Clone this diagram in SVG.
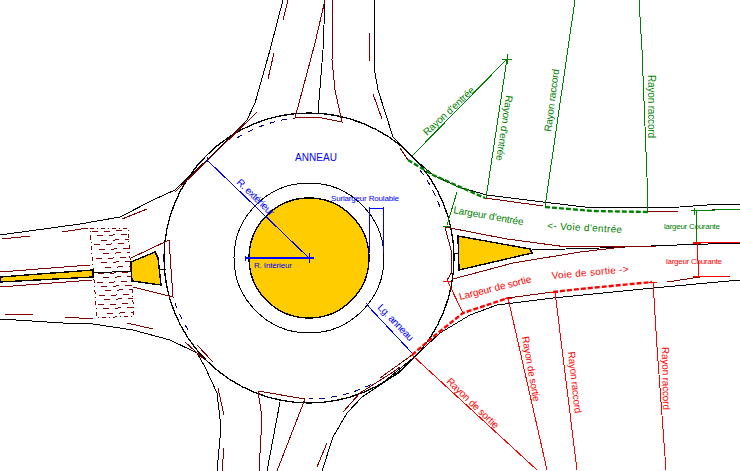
<svg xmlns="http://www.w3.org/2000/svg" width="740" height="471" viewBox="0 0 740 471">
<style>
path,line,circle,polygon{fill:none;shape-rendering:crispEdges}
.k{stroke:#000;stroke-width:1}
.r{stroke:#800000;stroke-width:1}
.n{stroke:#000080;stroke-width:1;stroke-dasharray:6 6}
.isl{fill:#FFCC00;stroke:#000;stroke-width:1.4}
.g{stroke:#008000;stroke-width:1}
path.gd{stroke:#008000;stroke-width:2.4;stroke-dasharray:5 2;shape-rendering:auto}
.s{stroke:#FF0000;stroke-width:1}
path.sd{stroke:#FF0000;stroke-width:2.4;stroke-dasharray:5 2;shape-rendering:auto}
.b{stroke:#0000FF;stroke-width:1}
text{font-family:"Liberation Sans",Arial,sans-serif;font-size:10px}
.tg{fill:#008000}.ts{fill:#FF0000}.tb{fill:#0000FF}
.sm{font-size:8px}
</style>
<rect width="740" height="471" fill="#fff"/>
<g id="chaussee">
<circle class="k" cx="309" cy="258" r="145" style="stroke-width:1.3"/>
<circle class="k" cx="309" cy="258" r="75"/>
<path class="n" d="M237,138A141,141 0 0 1 295,118"/>
<path class="n" d="M420,170A141,141 0 0 1 441,210"/>
<path class="n" d="M175,303A141,141 0 0 0 190,333"/>
<path class="n" d="M307,399A141,141 0 0 0 372,384"/>
<path class="k" d="M0,235L80,224L120,217L153,200L175,190L193,173L207,160L230,137L247,120L255,103L270,50L283,0"/>
<path class="k" d="M325,0L323,50L318,113"/>
<path class="k" d="M374,0L374,67L378,90L393,137L412,157L433,175L458,187L487,195L543,202L593,208L680,207L707,205L740,204"/>
<path class="k" d="M0,319L63,323L93,324L133,330L170,340L197,353L205,367L217,393L221,427L217,471"/>
<path class="k" d="M280,402L267,471"/>
<path class="k" d="M322,471L333,437L347,413L362,397L377,387L400,372L413,358L440,333L470,315L497,305L553,298L653,288L740,280"/>
<path class="k" d="M380,385L413,358"/>
<path class="k" d="M453,253H458M532,250L600,248L677,245L740,243"/>
<path class="k" d="M93,273L131,271M160,269H166"/>
<path class="r" d="M288,0L283,20M274,53L268,79M257,112L175,192M325,0L315,43L295,118L317,117L342,122L335,90L332,60L333,0M369,33V61M373,94L382,119"/>
<path class="r" d="M400,148L408,160M485,198L543,206M648,212L678,211M712,210L727,209"/>
<path class="r" d="M445,227L451,250L452,272L447,280M445,227L507,239L567,247L657,246M453,279L513,263L580,252L623,247M667,282L700,277L730,276"/>
<path class="r" d="M380,378L412,355M508,298L553,292"/>
<path class="r" d="M2,239L30,236M62,232L88,228M122,219L147,209M0,272L90,265M0,287L92,280M131,258L169,240L173,297L133,287M5,314L33,315M65,317L93,319M127,323L153,329"/>
<path class="r" d="M185,342L205,360M197,345L213,362M218,388L224,415M224,448L222,471M258,391L262,417L259,471M258,391L305,399L277,471M343,412L360,393L393,372L400,367M327,443L317,467"/>
</g>
<g id="passage-pietons">
<path class="r" stroke-dasharray="6 6" d="M92,232L128,230M97,236L129,234M101,241L129,239M94,245L129,243M99,250L130,248M103,254L130,252M96,259L130,257M101,263L131,261M105,268L131,266M98,274L131,272M103,278L132,276M97,283L132,281M101,287L132,285M105,291L133,289M99,296L133,294M104,300L133,298M98,305L134,303M103,309L134,307M107,314L134,312"/>
<path class="r" stroke-dasharray="4 3 1 3" d="M90,228H128L134,316L97,318Z"/>
</g>
<g id="ilots">
<circle class="isl" cx="309" cy="258" r="60"/>
<polygon class="isl" points="458,236 530,249 532,253 459,270"/>
<polygon class="isl" points="131,262 155,252 158,258 161,285 132,281"/>
<polygon class="isl" points="0,277 93,270 93,277 0,282"/>
</g>
<g id="dimensions-entree">
<path class="g" d="M412,156L507,59M502,59H512M507,54V64M507,59L486,198M575,0L545,207M639,0L642,50L647,177L648,213M457,192L447,225M443,226H450M694,208V215M691,211L740,209M696,211V243"/>
<path class="gd" d="M408,160L433,175L485,198"/>
<path class="gd" d="M545,207L593,211L648,212"/>
<text class="tg" transform="translate(427,136) rotate(-43)" textLength="66">Rayon d'entrée</text>
<text class="tg" transform="translate(506,95) rotate(98.7)" textLength="66">Rayon d'entrée</text>
<text class="tg" transform="translate(551,132) rotate(-82.6)" textLength="63">Rayon raccord</text>
<text class="tg" transform="translate(648,75) rotate(90)" textLength="63">Rayon raccord</text>
<text class="tg" transform="translate(453,213) rotate(10)" textLength="71">Largeur d'entrée</text>
<text class="tg" transform="translate(547,229) rotate(3)" textLength="75">&lt;- Voie d'entrée</text>
<text class="tg sm" x="664" y="229" textLength="56">largeur Courante</text>
</g>
<g id="dimensions-sortie">
<path class="s" d="M412,355L537,470M508,298L547,470M555,292L577,470M653,282L657,347L666,470M447,280L463,313M443,281H451M505,298H512M550,292H558M649,282H657M697,243L699,278M693,243L740,242M693,277L730,276M693,243H701"/>
<path class="sd" d="M412,355L433,337L463,313L508,298"/>
<path class="sd" d="M553,292L580,289L652,282"/>
<text class="ts" transform="translate(460,300) rotate(-14)" textLength="74">Largeur de sortie</text>
<text class="ts" transform="translate(552,279) rotate(-5)" textLength="77">Voie de sortie -&gt;</text>
<text class="ts sm" x="666" y="264" textLength="56">largeur Courante</text>
<text class="ts" transform="translate(446,382) rotate(44)" textLength="68">Rayon de sortie</text>
<text class="ts" transform="translate(522,337) rotate(80)" textLength="66">Rayon de sortie</text>
<text class="ts" transform="translate(568,352) rotate(83.6)" textLength="62">Rayon raccord</text>
<text class="ts" transform="translate(662,347) rotate(89)" textLength="63">Rayon raccord</text>
</g>
<g id="dimensions-anneau">
<path class="b" d="M207,160L309,258M367,305L412,353M369,207V253M383,207V253M369,208H383M309,253V263M366,303L370,308M245,256V261M207,157V162"/>
<path class="b" style="stroke-width:1.5" d="M246,258H314"/>
<text class="tb" x="295" y="161" textLength="42">ANNEAU</text>
<text class="tb" transform="translate(236,183) rotate(44)" textLength="48">R. extérieur</text>
<text class="tb sm" x="254" y="268" textLength="38">R. Intérieur</text>
<text class="tb sm" x="331" y="201" textLength="68">Surlargeur Roulable</text>
<text class="tb" transform="translate(377,308) rotate(46)" textLength="47">Lg. anneau</text>
</g>
</svg>
